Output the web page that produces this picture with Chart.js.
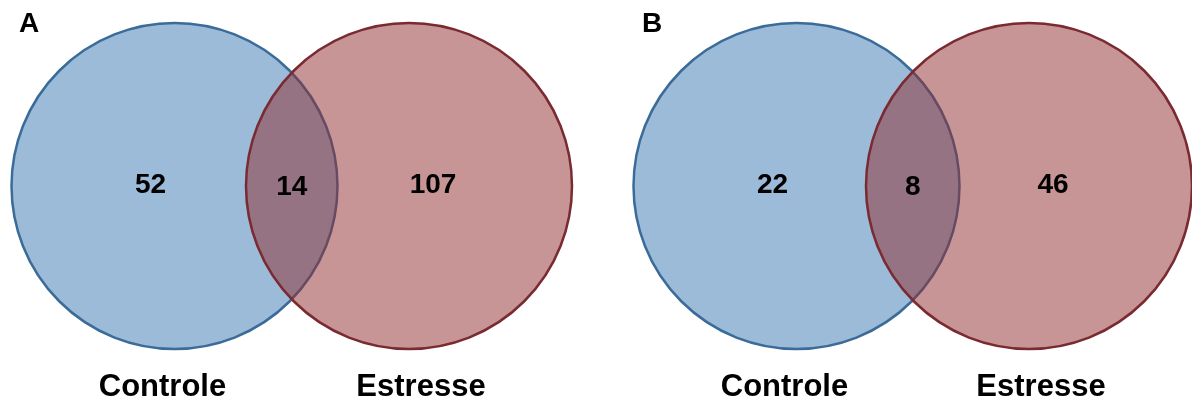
<!DOCTYPE html>
<html>
<head>
<meta charset="utf-8">
<script src="https://cdn.jsdelivr.net/npm/chart.js@4.4.1/dist/chart.umd.min.js"></script>
<style>
  html, body { margin: 0; padding: 0; background: #ffffff; overflow: hidden; }
  canvas { display: block; }
</style>
</head>
<body>
<canvas id="venn" width="1192" height="401"></canvas>
<script>
// Panels and set names
const panels = ['A', 'B'];
const sets = ['Controle', 'Estresse'];

// Counts per region, one entry per panel
const onlyControle = [52, 22];
const shared = [14, 8];
const onlyEstresse = [107, 46];

// Layout, in drawing units (the scales map one unit to one canvas pixel)
const layout = {
  width: 1192,
  height: 401,
  controleCx: [174.5, 796.5],
  estresseCx: [409, 1029],
  cy: 186,
  radius: 163,
  numberOffset: 24,
  numberBaseline: 193,
  sharedBaseline: 195,
  labelShift: [-12, 12],
  labelBaseline: 396,
  letterX: [19, 642],
  letterBaseline: 32
};

const FONT = '"Liberation Sans", Arial, Helvetica, sans-serif';

function circleData(cxList) {
  return panels.map((p, i) => ({ x: cxList[i], y: layout.cy, r: layout.radius }));
}

const vennText = {
  id: 'vennText',
  afterDatasetsDraw(chart) {
    const { ctx, scales: { x, y } } = chart;
    ctx.save();
    ctx.fillStyle = '#000000';
    ctx.textAlign = 'center';
    ctx.textBaseline = 'alphabetic';

    panels.forEach((p, i) => {
      const cA = layout.controleCx[i];
      const cB = layout.estresseCx[i];
      const lensLeft = cB - layout.radius;
      const lensRight = cA + layout.radius;

      ctx.font = 'bold 28px ' + FONT;
      ctx.fillText(String(onlyControle[i]), x.getPixelForValue(cA - layout.numberOffset), y.getPixelForValue(layout.numberBaseline));
      ctx.fillText(String(shared[i]), x.getPixelForValue((lensLeft + lensRight) / 2), y.getPixelForValue(layout.sharedBaseline));
      ctx.fillText(String(onlyEstresse[i]), x.getPixelForValue(cB + layout.numberOffset), y.getPixelForValue(layout.numberBaseline));

      ctx.font = 'bold 31px ' + FONT;
      ctx.fillText(sets[0], x.getPixelForValue(cA + layout.labelShift[0]), y.getPixelForValue(layout.labelBaseline));
      ctx.fillText(sets[1], x.getPixelForValue(cB + layout.labelShift[1]), y.getPixelForValue(layout.labelBaseline));

      ctx.font = 'bold 28px ' + FONT;
      ctx.textAlign = 'left';
      ctx.fillText(p, x.getPixelForValue(layout.letterX[i]), y.getPixelForValue(layout.letterBaseline));
      ctx.textAlign = 'center';
    });
    ctx.restore();
  }
};

new Chart(document.getElementById('venn'), {
  type: 'bubble',
  data: {
    datasets: [
      {
        label: sets[1],
        order: 0,
        data: circleData(layout.estresseCx),
        backgroundColor: 'rgba(145, 43, 46, 0.5)',
        borderColor: '#7a2a31',
        borderWidth: 2.5,
        clip: false
      },
      {
        label: sets[0],
        order: 1,
        data: circleData(layout.controleCx),
        backgroundColor: 'rgba(56, 119, 179, 0.5)',
        borderColor: '#3b6b98',
        borderWidth: 2.5,
        clip: false
      }
    ]
  },
  options: {
    responsive: false,
    animation: false,
    events: [],
    layout: { padding: 0, autoPadding: false },
    plugins: {
      legend: { display: false },
      tooltip: { enabled: false },
      title: { display: false }
    },
    scales: {
      x: { type: 'linear', min: 0, max: layout.width, display: false },
      y: { type: 'linear', min: 0, max: layout.height, reverse: true, display: false }
    }
  },
  plugins: [vennText]
});
</script>
</body>
</html>
